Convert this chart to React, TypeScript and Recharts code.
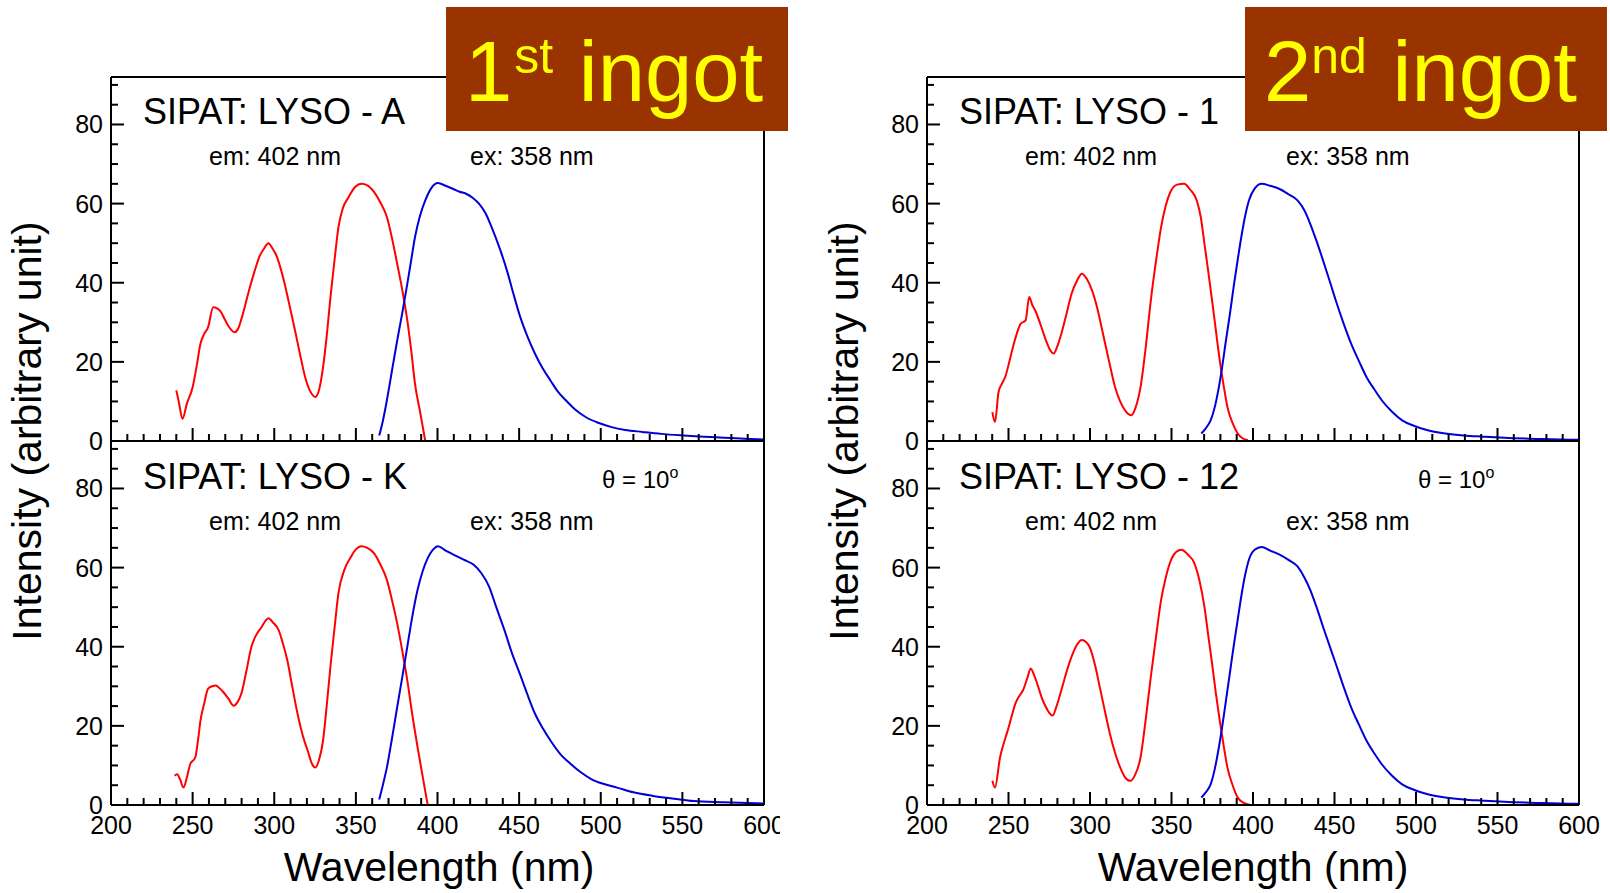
import React from "react";
import { LineChart, Line, XAxis, YAxis } from "recharts";

// --- axes ---
const xTicks = [
  200, 210, 220, 230, 240, 250, 260, 270, 280, 290, 300, 310, 320, 330, 340, 350, 360, 370, 380, 390,
  400, 410, 420, 430, 440, 450, 460, 470, 480, 490, 500, 510, 520, 530, 540, 550, 560, 570, 580, 590, 600,
];
const yTicks = [0, 5, 10, 15, 20, 25, 30, 35, 40, 45, 50, 55, 60, 65, 70, 75, 80, 85, 90];
const yLabelTicks = [0, 20, 40, 60, 80];

// --- SIPAT: LYSO - A (1st ingot, top) ---
const exWlA = [240, 241.5, 243.8, 246.5, 250, 252.5, 254.8, 257, 259.5, 262.6, 265, 267, 270, 272, 275.7, 278, 280, 284.5, 288, 290.8, 294, 296.4, 299, 301.7, 304, 306.4, 309.5, 312.7, 316, 318.9, 322, 325.2, 327.5, 329.9, 332, 334.6, 337, 339.3, 342, 345.5, 349.5, 353.4, 357, 361.2, 365, 369, 372, 375.3, 378.5, 381.5, 384, 386.2, 389.5, 392.5];
const exIntA = [12.8, 10, 5.6, 9.5, 13.6, 19, 24.6, 27, 28.8, 33.8, 33.5, 32.8, 30.5, 29, 27.5, 28.5, 31, 38, 43, 46.5, 48.8, 50, 48.6, 46.5, 43.5, 39.7, 34, 28, 21.5, 16.2, 12.6, 11.1, 13, 18.7, 26, 37, 46, 54, 58.8, 61.6, 64.2, 65, 64.6, 62.9, 60.3, 56.6, 51.5, 44.8, 38, 30.5, 22.5, 14.5, 7, 0];
const emWlA = [364.3, 366.5, 369, 372, 375.3, 378.5, 381.5, 384, 386.2, 389, 392.5, 396, 400.3, 405, 409.7, 413.5, 417.5, 421.5, 425.4, 429.5, 433.2, 438, 442.6, 446.5, 450.4, 455, 459.8, 464.5, 469.2, 473.5, 478.6, 484.5, 491, 498.5, 506.7, 515, 525.5, 537, 550.5, 563, 575.6, 588, 600];
const emIntA = [1.4, 5, 10.3, 17.5, 25.4, 32.5, 39.7, 46, 51.5, 56.5, 60.8, 63.8, 65.2, 64.5, 63.7, 63, 62.5, 61.5, 60, 57.5, 54, 48.8, 43, 37.2, 31.7, 26.5, 22, 18.3, 15.3, 12.6, 10.3, 7.9, 6, 4.6, 3.5, 2.8, 2.3, 1.8, 1.4, 1.1, 0.8, 0.6, 0.4];

// --- SIPAT: LYSO - K (1st ingot, bottom) ---
const exWlK = [239, 240.5, 242.3, 244.4, 246.5, 248.5, 251.6, 253.5, 254.8, 257, 259.5, 262, 264.2, 266.5, 268.9, 272, 275.1, 277.5, 279.8, 283, 286, 289, 292.3, 294.5, 296.4, 299.5, 302.7, 305.5, 308, 311, 314.3, 317.5, 320.5, 323, 325.2, 327.5, 329.9, 332, 334.6, 337, 339.3, 343, 347.1, 350, 353.4, 357, 361.2, 365, 369, 372, 375.3, 378.5, 381.5, 384.5, 387.8, 391, 394];
const exIntK = [7.4, 7.8, 6.5, 4.4, 7, 10.3, 12, 17, 21.3, 25.5, 29.4, 30, 30.2, 29.5, 28.5, 26.8, 25.1, 26, 28.1, 34, 40, 43, 45, 46.5, 47.2, 46, 44.2, 40.5, 36.6, 30, 23, 17.5, 13.7, 10.5, 9.5, 11.5, 16.3, 24.5, 35.7, 45, 53.5, 59.5, 62.8, 64.6, 65.4, 65, 63.6, 60.8, 56.9, 52, 45.9, 38.8, 31.5, 23, 14.6, 7, 0];
const emWlK = [364.3, 366.5, 369, 372, 375.3, 378.5, 381.5, 384.5, 387.8, 391, 394, 397, 400.3, 405, 409.7, 416, 422.2, 427, 431.6, 436, 441, 445.5, 450.4, 455, 459.8, 464.5, 469.2, 475, 481.8, 488, 494.4, 502, 510, 520, 532, 545, 557, 575, 600];
const emIntK = [1.4, 5, 9.5, 16.5, 24.7, 32.5, 40, 47.5, 54.4, 59.2, 62.4, 64.4, 65.4, 64.3, 63.3, 62, 60.7, 58.5, 55.2, 50, 44.2, 38.5, 33.2, 28, 23, 19.4, 16.3, 13, 10.3, 8.2, 6.5, 5.3, 4.4, 3.2, 2.3, 1.6, 1, 0.7, 0.4];

// --- SIPAT: LYSO - 1 (2nd ingot, top) ---
const exWl1 = [240.1, 241.7, 243.9, 246, 248, 250.5, 252.7, 255, 257.4, 260.5, 262.7, 264.5, 266.8, 270, 273, 275.5, 277.7, 280, 282.4, 285.5, 288.7, 292, 295, 298, 301.3, 304.5, 307.5, 311.5, 315.4, 318.5, 321.6, 325.4, 328, 331, 334, 337.3, 340.5, 343.6, 346.5, 349.8, 353.5, 357.7, 361.5, 365.5, 368, 370.2, 372.5, 374.9, 377.2, 379.6, 382, 384.3, 387.5, 390.6, 393.5, 396.9];
const exInt1 = [7.3, 4.8, 12.4, 14.5, 16.2, 20, 23.7, 27, 29.6, 30.5, 36.4, 34.5, 32.6, 29, 25.4, 23, 22.1, 24, 27.1, 32, 37.2, 40.5, 42.3, 41, 38, 33.5, 28, 20.5, 13.6, 10, 7.7, 6.5, 8.5, 13.6, 23, 35.5, 45.5, 54, 59.5, 63.3, 64.8, 65, 63.5, 60.8, 56.5, 49.9, 43, 35.5, 28, 20.4, 14, 8.6, 4.5, 1.9, 0.7, 0.2];
const emWl1 = [368.3, 371, 374, 376.5, 378.7, 381, 383.4, 385.8, 388.1, 390.5, 392.8, 395, 397.5, 401, 405.3, 410.5, 416.3, 422, 427.3, 431.5, 435.1, 439, 443, 447, 450.8, 455.5, 460.2, 465, 469.6, 474.5, 479, 485, 491.5, 499, 507.2, 518, 529.2, 541, 554.2, 577, 600];
const emInt1 = [1.9, 3.2, 5.2, 8.5, 12.8, 18.5, 25.4, 32, 38.9, 45.5, 51.5, 56.5, 60.8, 63.8, 65, 64.5, 63.7, 62.3, 60.8, 58.3, 54.9, 50.5, 45.6, 40.5, 35.5, 29.8, 24.6, 20.2, 16.2, 13, 10.3, 7.5, 5.2, 3.8, 2.7, 1.9, 1.4, 1.1, 0.8, 0.5, 0.3];

// --- SIPAT: LYSO - 12 (2nd ingot, bottom) ---
const exWl12 = [240.1, 241.7, 244.8, 247, 249.5, 252, 254.2, 256.5, 258.9, 261.5, 263.6, 266, 268.3, 270.5, 273, 275, 277.1, 279.5, 282.4, 285.5, 288.7, 292, 295, 297.5, 299.7, 303, 306, 309, 312.2, 315.5, 318.5, 321.5, 324.8, 327.5, 331, 334, 337.3, 340.5, 343.6, 346.5, 349.8, 353, 356.1, 360, 363.9, 367, 370.2, 372.5, 374.9, 377.2, 379.6, 382, 384.3, 387.5, 390.6, 394, 398.4];
const exInt12 = [6.1, 4.4, 12, 15.5, 18.8, 22.5, 25.6, 27.5, 29, 32, 34.5, 32.5, 29.8, 27, 24.7, 23.3, 22.6, 25, 29, 33.5, 37.5, 40.5, 41.7, 41.2, 40, 35.5, 29.8, 24, 18, 13, 9.5, 7, 6.1, 7.5, 12, 21, 32.4, 42.5, 51.8, 57.5, 62, 64, 64.5, 63.3, 61.2, 57, 50.1, 43, 35.7, 28.3, 21.3, 15, 9.5, 5, 1.9, 0.6, 0];
const emWl12 = [368.3, 371, 374, 376.5, 378.7, 381, 383.4, 385.8, 388.1, 390.5, 392.8, 395, 397.5, 401, 405.3, 410.5, 416.3, 422, 427.3, 431.5, 435.1, 439, 443, 447, 450.8, 455.5, 460.2, 465, 469.6, 474.5, 479, 485, 491.5, 499, 507.2, 518, 529.2, 541, 554.2, 577, 600];
const emInt12 = [1.9, 3.2, 5.2, 9, 13.7, 19.5, 26.4, 33.3, 40, 46.5, 52.7, 57.8, 62, 64.5, 65.2, 64.3, 63.3, 61.9, 60.3, 57.5, 54.4, 50, 45, 40.2, 35.7, 30, 24.7, 20.3, 16.3, 13, 10.3, 7.5, 5.2, 3.8, 2.7, 1.9, 1.4, 1.1, 0.8, 0.5, 0.3];

const FONT = "'Liberation Sans', Arial, Helvetica, sans-serif";
const RED = "#ff0000";
const BLUE = "#0000d8";
const MAJOR = 13;
const MINOR = 7;

const zip = (wl: number[], v: number[]) => wl.map((w, i) => ({ wl: w, val: v[i] }));

function XTick({ x, y, payload, side, labels }: any) {
  const v = payload.value;
  const major = v % 50 === 0;
  const dir = side === "bottom" ? -1 : 1;
  return (
    <g>
      <line x1={x} y1={y} x2={x} y2={y + dir * (major ? MAJOR : MINOR)} stroke="#000" strokeWidth={2} />
      {labels && major && (
        <text x={x} y={y + 29} textAnchor="middle" fontSize={25} fontFamily={FONT} fill="#000">
          {v}
        </text>
      )}
    </g>
  );
}

function YTick({ x, y, payload, side }: any) {
  const v = payload.value;
  const major = v % 20 === 0;
  const dir = side === "left" ? 1 : -1;
  return (
    <g>
      <line x1={x} y1={y} x2={x + dir * (major ? MAJOR : MINOR)} y2={y} stroke="#000" strokeWidth={2} />
      {side === "left" && yLabelTicks.includes(v) && (
        <text x={x - 8} y={y} dy="0.36em" textAnchor="end" fontSize={25} fontFamily={FONT} fill="#000">
          {v}
        </text>
      )}
    </g>
  );
}

interface PanelProps {
  width: number;
  height: number;
  margin: { top: number; right: number; bottom: number; left: number };
  ex: { wl: number; val: number }[];
  em: { wl: number; val: number }[];
  xLabels: boolean;
}

function Panel({ width, height, margin, ex, em, xLabels }: PanelProps) {
  return (
    <div style={{ position: "absolute", left: 0, top: 0 }}>
      <LineChart width={width} height={height} margin={margin}>
        <XAxis
          xAxisId="b" orientation="bottom" type="number" dataKey="wl" domain={[200, 600]}
          ticks={xTicks} interval={0} height={1} tickSize={0} tickMargin={0}
          stroke="#000" strokeWidth={2} tickLine={false}
          tick={(p: any) => <XTick {...p} side="bottom" labels={xLabels} />}
        />
        <XAxis
          xAxisId="t" orientation="top" type="number" dataKey="wl" domain={[200, 600]}
          ticks={xTicks} interval={0} height={1} tickSize={0} tickMargin={0}
          stroke="#000" strokeWidth={2} tickLine={false}
          tick={(p: any) => <XTick {...p} side="top" labels={false} />}
        />
        <YAxis
          yAxisId="l" orientation="left" type="number" domain={[0, 92]}
          ticks={yTicks} interval={0} width={1} tickSize={0} tickMargin={0}
          stroke="#000" strokeWidth={2} tickLine={false}
          tick={(p: any) => <YTick {...p} side="left" />}
        />
        <YAxis
          yAxisId="r" orientation="right" type="number" domain={[0, 92]}
          ticks={yTicks} interval={0} width={1} tickSize={0} tickMargin={0}
          stroke="#000" strokeWidth={2} tickLine={false}
          tick={(p: any) => <YTick {...p} side="right" />}
        />
        <Line
          xAxisId="b" yAxisId="l" data={ex} dataKey="val" type="monotone"
          stroke={RED} strokeWidth={2} dot={false} isAnimationActive={false}
        />
        <Line
          xAxisId="b" yAxisId="l" data={em} dataKey="val" type="monotone"
          stroke={BLUE} strokeWidth={2} dot={false} isAnimationActive={false}
        />
      </LineChart>
    </div>
  );
}

const H = 893;
const TOP = 77;
const MID = 441;
const BOT = 805;

function Column({ left, width, plotLeft, plotRight, top, bottom }: any) {
  const m = (t: number, b: number) => ({
    top: t - 1,
    bottom: H - b - 1,
    left: plotLeft - 1,
    right: width - plotRight - 1,
  });
  return (
    <div style={{ position: "absolute", left, top: 0, width, height: H, overflow: "hidden" }}>
      <Panel width={width} height={H} margin={m(TOP, MID)} ex={top.ex} em={top.em} xLabels={false} />
      <Panel width={width} height={H} margin={m(MID, BOT)} ex={bottom.ex} em={bottom.em} xLabels={true} />
    </div>
  );
}

function PanelText({ x0, y0, name, theta }: { x0: number; y0: number; name: string; theta: boolean }) {
  return (
    <g fontFamily={FONT} fill="#000">
      <text x={x0} y={y0} fontSize={36}>{name}</text>
      <text x={x0 + 66} y={y0 + 41} fontSize={25}>em: 402 nm</text>
      <text x={x0 + 327} y={y0 + 41} fontSize={25}>ex: 358 nm</text>
      {theta && (
        <text x={x0 + 459} y={y0 - 1} fontSize={24}>
          θ = 10<tspan fontSize={16} dy={-10}>o</tspan>
        </text>
      )}
    </g>
  );
}

function Ingot({ x, w, num, sup, supDx }: { x: number; w: number; num: string; sup: string; supDx: number }) {
  return (
    <g fontFamily={FONT}>
      <rect x={x} y={7} width={w} height={124} fill="#993300" />
      <text x={x + 19} y={101} fontSize={85} fill="#ffff00">
        {num}
        <tspan fontSize={50} dx={supDx} dy={-28}>{sup}</tspan>
        <tspan fontSize={85} dx={2} dy={28}> ingot</tspan>
      </text>
    </g>
  );
}

export default function App() {
  return (
    <div style={{ position: "absolute", left: 0, top: 0, width: 1610, height: H, background: "#fff", fontFamily: FONT }}>
      <Column
        left={0} width={780} plotLeft={111} plotRight={764}
        top={{ ex: zip(exWlA, exIntA), em: zip(emWlA, emIntA) }}
        bottom={{ ex: zip(exWlK, exIntK), em: zip(emWlK, emIntK) }}
      />
      <Column
        left={800} width={810} plotLeft={127} plotRight={779}
        top={{ ex: zip(exWl1, exInt1), em: zip(emWl1, emInt1) }}
        bottom={{ ex: zip(exWl12, exInt12), em: zip(emWl12, emInt12) }}
      />
      <svg width={1610} height={H} style={{ position: "absolute", left: 0, top: 0, pointerEvents: "none" }}>
        <PanelText x0={143} y0={124} name="SIPAT: LYSO - A" theta={false} />
        <PanelText x0={143} y0={488.5} name="SIPAT: LYSO - K" theta={true} />
        <PanelText x0={959} y0={124} name="SIPAT: LYSO - 1" theta={false} />
        <PanelText x0={959} y0={488.5} name="SIPAT: LYSO - 12" theta={true} />
        <g fontFamily={FONT} fill="#000" fontSize={41}>
          <text transform="translate(41,431) rotate(-90)" textAnchor="middle">Intensity (arbitrary unit)</text>
          <text transform="translate(858,431) rotate(-90)" textAnchor="middle">Intensity (arbitrary unit)</text>
          <text x={439} y={881} textAnchor="middle">Wavelength (nm)</text>
          <text x={1253} y={881} textAnchor="middle">Wavelength (nm)</text>
        </g>
        <Ingot x={446} w={342} num="1" sup="st" supDx={2} />
        <Ingot x={1245} w={362} num="2" sup="nd" supDx={0} />
      </svg>
    </div>
  );
}
